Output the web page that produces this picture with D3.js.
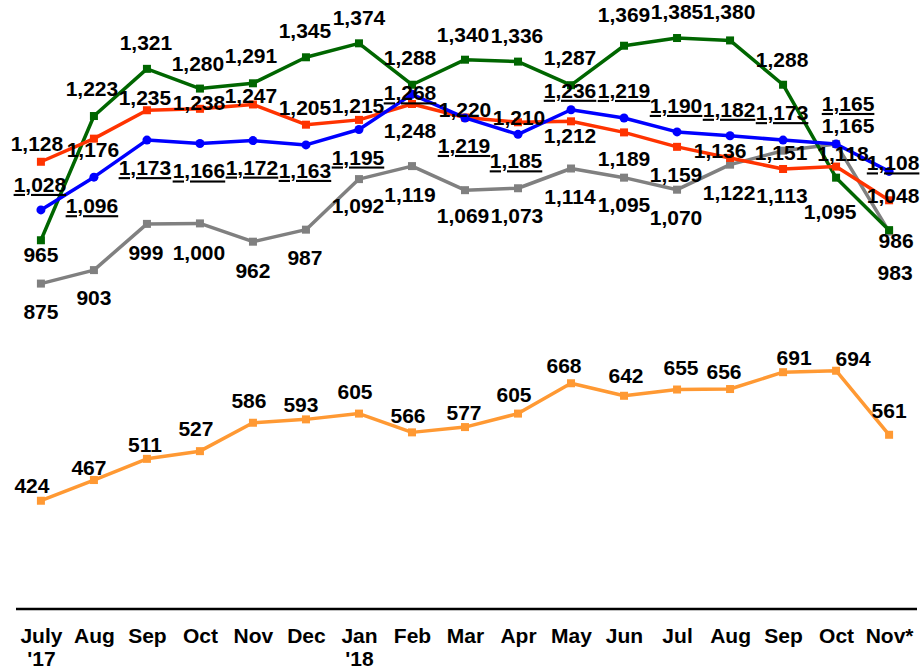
<!DOCTYPE html>
<html>
<head>
<meta charset="utf-8">
<script src="https://cdn.jsdelivr.net/npm/d3@7"></script>
<style>
  html, body { margin: 0; padding: 0; background: #fff; }
  svg { display: block; }
  text { font-family: "Liberation Sans", Arial, sans-serif; font-weight: bold; fill: #000; }
</style>
</head>
<body>
<svg id="chart" width="920" height="670"></svg>
<script>
// ---- data ----
const months = ["July\n'17","Aug","Sep","Oct","Nov","Dec","Jan\n'18","Feb","Mar","Apr","May","Jun","Jul","Aug","Sep","Oct","Nov*"];
const greenValues  = [965,1223,1321,1280,1291,1345,1374,1288,1340,1336,1287,1369,1385,1380,1288,1095,986];
const redValues    = [1128,1176,1235,1238,1247,1205,1215,1248,1220,1210,1212,1189,1159,1136,1113,1118,1048];
const blueValues   = [1028,1096,1173,1166,1172,1163,1195,1268,1219,1185,1236,1219,1190,1182,1173,1165,1108];
const grayValues   = [875,903,999,1000,962,987,1092,1119,1069,1073,1114,1095,1070,1122,1151,1165,983];
const orangeValues = [424,467,511,527,586,593,605,566,577,605,668,642,655,656,691,694,561];

// ---- label nudges [dx, dy of baseline] relative to each point ----
const greenNudge  = [[0,22],[-2,-20],[-1,-19],[-2,-18],[-2,-20],[-1,-19],[0,-18],[-2,-20],[-2,-18],[-1,-19],[-1,-20],[0,-24],[0,-19],[-1,-21],[-1,-18],[-6,41],[7,18]];
const redNudge    = [[-4,-11],[-1,18],[-2,-5],[-1,1],[-2,-1],[-1,-10],[-1,-7],[-2,34],[0,0],[1,3],[-1,22],[0,34],[-1,35],[-10,0],[-1,34],[7,-6],[4,3]];
const blueNudge   = [[-1,-18],[-2,36],[-2,35],[-1,35],[-1,34],[-1,33],[-1,35],[-2,6],[-1,35],[-2,34],[-1,-12],[0,-20],[-1,-19],[-1,-19],[-1,-20],[12,-33],[4,-1]];
const grayNudge   = [[0,35],[0,35],[-1,36],[-1,37],[0,36],[-1,35],[-1,34],[-2,36],[-2,33],[-1,35],[-1,35],[0,34],[-1,35],[-1,35],[-2,9],[12,-11],[6,48]];
const orangeNudge = [[-9,-8],[-5,-5],[-2,-7],[-4,-15],[-4,-15],[-5,-7],[-4,-15],[-4,-9],[-1,-7],[-4,-12],[-7,-10],[2,-13],[4,-15],[-6,-10],[11,-7],[17,-5],[0,-17]];

const series = [
  { name: "orange", values: orangeValues, nudge: orangeNudge, color: "#FF9933", marker: "square", underline: false },
  { name: "gray",   values: grayValues,   nudge: grayNudge,   color: "#808080", marker: "square", underline: false },
  { name: "green",  values: greenValues,  nudge: greenNudge,  color: "#006600", marker: "square", underline: false },
  { name: "red",    values: redValues,    nudge: redNudge,    color: "#FF3300", marker: "square", underline: false },
  { name: "blue",   values: blueValues,   nudge: blueNudge,   color: "#0000FF", marker: "circle", underline: true }
];

// ---- scales ----
const svg = d3.select("#chart");
const axisY = 609;
const x = d3.scalePoint().domain(d3.range(months.length)).range([16, 914]).padding(0.47);
const y = d3.scaleLinear().domain([0, 1400]).range([704.9, 30.8]);
const fmt = d3.format(",");

// ---- axis ----
const axisG = svg.append("g")
  .attr("transform", `translate(0,${axisY})`)
  .call(d3.axisBottom(x).tickSize(0).tickPadding(0).tickFormat(i => months[i]));
axisG.select(".domain").attr("d", "M16,0H917").attr("stroke", "#000").attr("stroke-width", 2.5);
axisG.selectAll(".tick text").each(function(i) {
  const t = d3.select(this);
  const lines = months[i].split("\n");
  t.text(null).attr("y", 0).attr("dy", null)
    .style("font-size", "21px").style("font-family", "'Liberation Sans', Arial, sans-serif")
    .style("font-weight", "bold").attr("fill", "#000");
  lines.forEach((ln, k) => {
    t.append("tspan").attr("x", 0).attr("y", 34 + k * 23).text(ln);
  });
});

// ---- lines & markers ----
const line = d3.line().x((d, i) => x(i)).y(d => y(d));
series.forEach(s => {
  const g = svg.append("g").attr("class", "series-" + s.name);
  g.append("path").datum(s.values)
    .attr("d", line).attr("fill", "none")
    .attr("stroke", s.color).attr("stroke-width", 3.5).attr("stroke-linejoin", "round");
  if (s.marker === "circle") {
    g.selectAll("circle").data(s.values).join("circle")
      .attr("cx", (d, i) => x(i)).attr("cy", d => y(d)).attr("r", 4.5).attr("fill", s.color);
  } else {
    g.selectAll("rect").data(s.values).join("rect")
      .attr("x", (d, i) => x(i) - 4).attr("y", d => y(d) - 4)
      .attr("width", 8).attr("height", 8).attr("fill", s.color);
  }
});

// ---- value labels ----
series.forEach(s => {
  svg.append("g").attr("class", "labels-" + s.name)
    .selectAll("text").data(s.values).join("text")
    .attr("x", (d, i) => x(i) + s.nudge[i][0])
    .attr("y", (d, i) => y(d) + s.nudge[i][1])
    .attr("text-anchor", "middle")
    .style("font-size", "21px")
    .style("text-decoration", s.underline ? "underline" : "none")
    .text(d => fmt(d));
});
</script>
</body>
</html>
